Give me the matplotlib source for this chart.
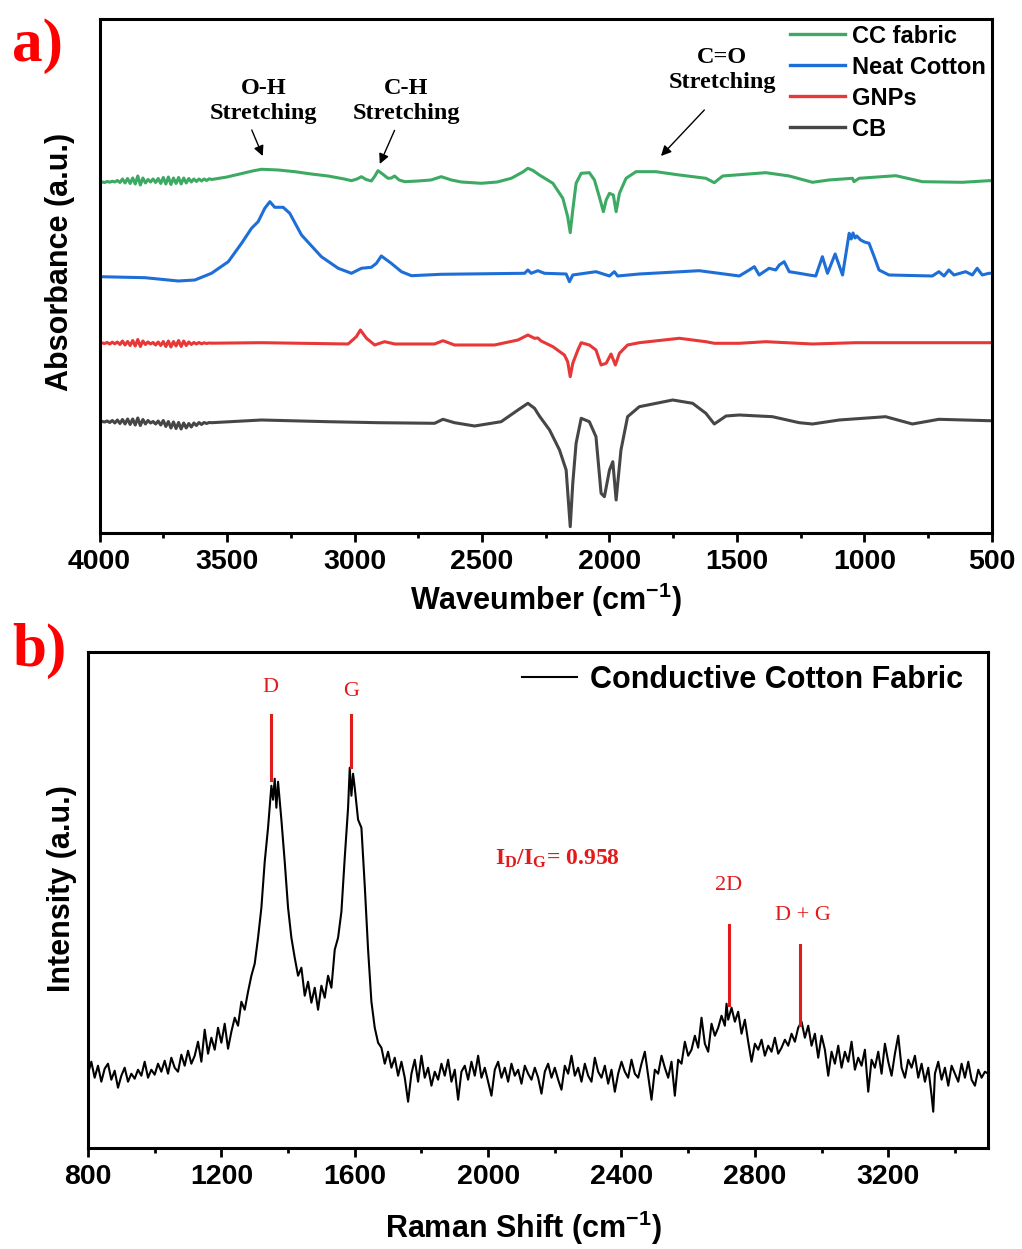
import numpy as np
import matplotlib
matplotlib.use("Agg")
import matplotlib.pyplot as plt
from matplotlib.ticker import MultipleLocator

plt.rcParams['font.family'] = ['Liberation Sans', 'DejaVu Sans']
plt.rcParams['mathtext.fontset'] = 'custom'
plt.rcParams['mathtext.rm'] = 'Liberation Serif'
plt.rcParams['mathtext.bf'] = 'Liberation Serif:bold'
plt.rcParams['mathtext.sf'] = 'Liberation Sans:bold'

# ---------------- FTIR data (wavenumber cm-1, absorbance a.u., offset as drawn)
cc_fabric = [
    (3998, 3.557), (3990, 3.56), (3980, 3.555), (3970, 3.565), (3960, 3.558), (3950, 3.568),
    (3940, 3.56), (3930, 3.575), (3920, 3.555), (3910, 3.59), (3900, 3.55), (3890, 3.595),
    (3880, 3.545), (3870, 3.60), (3860, 3.54), (3850, 3.62), (3840, 3.53), (3830, 3.60),
    (3820, 3.55), (3810, 3.585), (3800, 3.56), (3790, 3.59), (3780, 3.555), (3770, 3.595),
    (3760, 3.545), (3750, 3.605), (3740, 3.54), (3730, 3.61), (3720, 3.535), (3710, 3.60),
    (3700, 3.545), (3690, 3.605), (3680, 3.54), (3670, 3.60), (3660, 3.55), (3650, 3.595),
    (3640, 3.56), (3630, 3.59), (3620, 3.565), (3610, 3.59), (3600, 3.57), (3590, 3.59),
    (3580, 3.575), (3570, 3.592), (3560, 3.585), (3500, 3.61), (3450, 3.64), (3400, 3.67),
    (3365, 3.687), (3300, 3.68), (3234, 3.663), (3170, 3.64), (3104, 3.62), (3040, 3.59),
    (3012, 3.573), (2990, 3.59), (2973, 3.613), (2955, 3.585), (2934, 3.57), (2920, 3.62),
    (2908, 3.673), (2890, 3.64), (2869, 3.597), (2855, 3.60), (2843, 3.62), (2825, 3.58),
    (2803, 3.563), (2750, 3.57), (2700, 3.58), (2660, 3.613), (2620, 3.58), (2581, 3.56),
    (2503, 3.547), (2440, 3.56), (2385, 3.597), (2340, 3.66), (2320, 3.697), (2300, 3.675),
    (2275, 3.63), (2222, 3.547), (2183, 3.397), (2164, 3.213), (2154, 3.053), (2144, 3.28),
    (2131, 3.547), (2111, 3.647), (2079, 3.653), (2059, 3.58), (2040, 3.413), (2024, 3.263),
    (2013, 3.38), (2000, 3.447), (1985, 3.43), (1974, 3.263), (1961, 3.447), (1935, 3.597),
    (1896, 3.663), (1818, 3.663), (1726, 3.63), (1622, 3.597), (1589, 3.553), (1556, 3.62),
    (1387, 3.653), (1295, 3.62), (1204, 3.557), (1139, 3.58), (1047, 3.597), (1041, 3.563),
    (1021, 3.597), (877, 3.623), (773, 3.563), (616, 3.557), (512, 3.573), (500, 3.573),
]

neat_cotton = [
    (3998, 2.613), (3822, 2.603), (3691, 2.57), (3626, 2.58), (3561, 2.647), (3495, 2.763),
    (3443, 2.947), (3404, 3.097), (3378, 3.163), (3352, 3.297), (3332, 3.363), (3313, 3.307),
    (3280, 3.307), (3254, 3.247), (3208, 3.03), (3130, 2.813), (3064, 2.697), (3012, 2.647),
    (2973, 2.697), (2934, 2.707), (2914, 2.747), (2895, 2.82), (2856, 2.747), (2816, 2.663),
    (2777, 2.623), (2660, 2.637), (2333, 2.647), (2320, 2.68), (2307, 2.647), (2281, 2.673),
    (2255, 2.647), (2170, 2.64), (2157, 2.563), (2144, 2.63), (2053, 2.663), (2000, 2.62),
    (1981, 2.663), (1968, 2.62), (1883, 2.64), (1648, 2.673), (1491, 2.62), (1452, 2.68),
    (1432, 2.713), (1413, 2.63), (1374, 2.697), (1348, 2.68), (1334, 2.73), (1315, 2.763),
    (1295, 2.663), (1256, 2.647), (1217, 2.63), (1191, 2.62), (1165, 2.813), (1145, 2.647),
    (1115, 2.84), (1086, 2.63), (1060, 3.047), (1052, 2.99), (1045, 3.05), (1037, 3.0),
    (1030, 3.02), (1015, 2.98), (1000, 2.96), (982, 2.947), (960, 2.80), (943, 2.68),
    (904, 2.63), (734, 2.62), (708, 2.663), (688, 2.62), (669, 2.68), (649, 2.63),
    (603, 2.663), (577, 2.63), (558, 2.697), (538, 2.63), (512, 2.647), (500, 2.647),
]

gnps = [
    (3998, 1.947), (3990, 1.95), (3980, 1.945), (3970, 1.955), (3960, 1.94), (3950, 1.958),
    (3940, 1.942), (3930, 1.96), (3920, 1.935), (3910, 1.97), (3900, 1.93), (3890, 1.965),
    (3880, 1.925), (3870, 1.975), (3860, 1.92), (3850, 1.985), (3840, 1.915), (3830, 1.97),
    (3820, 1.935), (3810, 1.96), (3800, 1.94), (3790, 1.955), (3780, 1.93), (3770, 1.96),
    (3760, 1.925), (3750, 1.965), (3740, 1.915), (3730, 1.97), (3720, 1.91), (3710, 1.965),
    (3700, 1.92), (3690, 1.975), (3680, 1.915), (3670, 1.97), (3660, 1.925), (3650, 1.96),
    (3640, 1.935), (3630, 1.955), (3620, 1.94), (3610, 1.955), (3600, 1.942), (3590, 1.952),
    (3580, 1.945), (3570, 1.95), (3560, 1.948), (3365, 1.953), (3025, 1.94), (2993, 2.013),
    (2977, 2.08), (2953, 1.997), (2921, 1.93), (2882, 1.963), (2842, 1.94), (2686, 1.94),
    (2653, 1.973), (2608, 1.93), (2451, 1.93), (2359, 1.98), (2320, 2.03), (2294, 1.997),
    (2281, 2.0), (2268, 1.97), (2222, 1.913), (2177, 1.83), (2164, 1.763), (2154, 1.613),
    (2144, 1.747), (2124, 1.88), (2111, 1.953), (2079, 1.93), (2053, 1.88), (2033, 1.73),
    (2013, 1.747), (1994, 1.84), (1977, 1.73), (1961, 1.847), (1929, 1.93), (1883, 1.953),
    (1726, 1.997), (1622, 1.963), (1589, 1.947), (1491, 1.947), (1387, 1.963), (1204, 1.94),
    (1034, 1.953), (877, 1.953), (512, 1.953), (500, 1.953),
]

cb = [
    (3998, 1.163), (3990, 1.165), (3980, 1.16), (3970, 1.17), (3960, 1.155), (3950, 1.175),
    (3940, 1.15), (3930, 1.18), (3920, 1.145), (3910, 1.185), (3900, 1.14), (3890, 1.19),
    (3880, 1.135), (3870, 1.19), (3860, 1.13), (3850, 1.20), (3840, 1.125), (3830, 1.185),
    (3820, 1.14), (3810, 1.175), (3800, 1.15), (3790, 1.165), (3780, 1.14), (3770, 1.17),
    (3760, 1.13), (3750, 1.175), (3740, 1.115), (3730, 1.165), (3720, 1.10), (3710, 1.16),
    (3700, 1.095), (3690, 1.155), (3680, 1.09), (3670, 1.15), (3660, 1.10), (3650, 1.145),
    (3640, 1.11), (3630, 1.15), (3620, 1.125), (3610, 1.155), (3600, 1.135), (3590, 1.155),
    (3580, 1.145), (3570, 1.155), (3560, 1.153), (3365, 1.18), (3104, 1.163), (2908, 1.153),
    (2686, 1.147), (2653, 1.187), (2608, 1.153), (2529, 1.12), (2425, 1.163), (2359, 1.28),
    (2320, 1.347), (2294, 1.297), (2275, 1.22), (2235, 1.08), (2196, 0.88), (2170, 0.68),
    (2154, 0.113), (2144, 0.547), (2131, 0.947), (2111, 1.197), (2079, 1.163), (2053, 1.013),
    (2033, 0.447), (2020, 0.413), (2000, 0.68), (1987, 0.763), (1974, 0.38), (1955, 0.88),
    (1929, 1.213), (1883, 1.313), (1752, 1.38), (1674, 1.347), (1622, 1.247), (1589, 1.14),
    (1543, 1.22), (1491, 1.23), (1361, 1.213), (1256, 1.153), (1204, 1.14), (1099, 1.18),
    (917, 1.213), (812, 1.14), (708, 1.187), (512, 1.173), (500, 1.173),
]

ftir_series = [
    ("CC fabric", cc_fabric, "#3DAA64"),
    ("Neat Cotton", neat_cotton, "#1E6ED7"),
    ("GNPs", gnps, "#E83737"),
    ("CB", cb, "#464646"),
]

# band labels: (text, text position, arrow tail, arrow head)
ftir_bands = [
    ("O-H\nStretching", (3356, 4.37), (3403, 4.08), (3360, 3.82)),
    ("C-H\nStretching", (2796, 4.37), (2843, 4.076), (2901, 3.74)),
    ("C=O\nStretching", (1558, 4.68), (1628, 4.28), (1798, 3.82)),
]

# ---------------- Raman data (Raman shift cm-1, intensity a.u.)
raman = [
    (800, 0.74), (810, 0.86), (820, 0.70), (830, 0.82), (840, 0.66), (850, 0.79), (860, 0.84),
    (870, 0.68), (880, 0.77), (890, 0.60), (900, 0.72), (910, 0.80), (920, 0.66), (930, 0.74),
    (940, 0.69), (950, 0.78), (960, 0.72), (970, 0.86), (980, 0.70), (990, 0.78), (1000, 0.73),
    (1010, 0.84), (1020, 0.76), (1030, 0.87), (1040, 0.74), (1050, 0.90), (1060, 0.80),
    (1070, 0.76), (1080, 0.93), (1090, 0.82), (1100, 0.97), (1110, 0.84), (1120, 0.92),
    (1130, 1.06), (1140, 0.86), (1150, 1.18), (1160, 0.94), (1170, 1.10), (1180, 0.98),
    (1190, 1.20), (1200, 1.05), (1210, 1.24), (1220, 0.99), (1230, 1.16), (1240, 1.30),
    (1250, 1.22), (1260, 1.46), (1270, 1.38), (1280, 1.56), (1290, 1.72), (1300, 1.84),
    (1310, 2.10), (1320, 2.40), (1330, 2.86), (1340, 3.20), (1350, 3.62), (1355, 3.48),
    (1360, 3.69), (1365, 3.40), (1370, 3.66), (1380, 3.28), (1390, 2.86), (1400, 2.40),
    (1410, 2.10), (1420, 1.90), (1430, 1.72), (1440, 1.80), (1450, 1.52), (1460, 1.66),
    (1470, 1.45), (1480, 1.60), (1490, 1.38), (1500, 1.62), (1510, 1.50), (1520, 1.72),
    (1530, 1.60), (1540, 1.98), (1550, 2.10), (1560, 2.36), (1570, 2.90), (1580, 3.40),
    (1585, 3.80), (1590, 3.52), (1595, 3.74), (1600, 3.60), (1610, 3.28), (1620, 3.20),
    (1630, 2.62), (1640, 1.98), (1650, 1.46), (1660, 1.20), (1670, 1.05), (1680, 1.00),
    (1690, 0.84), (1700, 0.96), (1710, 0.80), (1720, 0.90), (1730, 0.72), (1740, 0.86),
    (1750, 0.70), (1760, 0.46), (1770, 0.74), (1780, 0.88), (1790, 0.66), (1800, 0.92),
    (1810, 0.70), (1820, 0.80), (1830, 0.62), (1840, 0.76), (1850, 0.68), (1860, 0.84),
    (1870, 0.72), (1880, 0.88), (1890, 0.66), (1900, 0.78), (1910, 0.48), (1920, 0.76),
    (1930, 0.82), (1940, 0.68), (1950, 0.86), (1960, 0.72), (1970, 0.92), (1980, 0.70),
    (1990, 0.80), (2000, 0.66), (2010, 0.52), (2020, 0.78), (2030, 0.86), (2040, 0.70),
    (2050, 0.80), (2060, 0.66), (2070, 0.84), (2080, 0.72), (2090, 0.78), (2100, 0.64),
    (2110, 0.82), (2120, 0.74), (2130, 0.68), (2140, 0.80), (2150, 0.70), (2160, 0.54),
    (2170, 0.76), (2180, 0.84), (2190, 0.70), (2200, 0.80), (2210, 0.68), (2220, 0.58),
    (2230, 0.82), (2240, 0.74), (2250, 0.92), (2260, 0.72), (2270, 0.80), (2280, 0.66),
    (2290, 0.84), (2300, 0.72), (2310, 0.66), (2320, 0.90), (2330, 0.76), (2340, 0.70),
    (2350, 0.82), (2360, 0.64), (2370, 0.78), (2380, 0.56), (2390, 0.74), (2400, 0.86),
    (2410, 0.76), (2420, 0.70), (2430, 0.88), (2440, 0.74), (2450, 0.70), (2460, 0.84),
    (2470, 0.96), (2480, 0.72), (2490, 0.48), (2500, 0.78), (2510, 0.74), (2520, 0.92),
    (2530, 0.80), (2540, 0.70), (2550, 0.86), (2560, 0.52), (2570, 0.88), (2580, 0.84),
    (2590, 1.06), (2600, 0.92), (2610, 0.98), (2620, 1.12), (2630, 1.00), (2640, 1.30),
    (2650, 1.04), (2660, 0.96), (2670, 1.24), (2680, 1.12), (2690, 1.20), (2700, 1.32),
    (2710, 1.22), (2715, 1.44), (2720, 1.28), (2730, 1.40), (2740, 1.26), (2750, 1.36),
    (2760, 1.14), (2770, 1.28), (2780, 1.06), (2790, 0.86), (2800, 1.04), (2810, 0.98),
    (2820, 1.08), (2830, 0.92), (2840, 1.02), (2850, 0.96), (2860, 1.10), (2870, 0.94),
    (2880, 1.00), (2890, 1.08), (2900, 1.02), (2910, 1.14), (2920, 1.06), (2930, 1.20),
    (2940, 1.26), (2950, 1.10), (2960, 1.22), (2970, 1.02), (2980, 1.14), (2990, 0.90),
    (3000, 1.12), (3010, 0.98), (3020, 0.72), (3030, 0.96), (3040, 0.84), (3050, 1.02),
    (3060, 0.80), (3070, 0.96), (3080, 0.86), (3090, 1.06), (3100, 0.78), (3110, 0.90),
    (3120, 0.82), (3130, 0.98), (3140, 0.56), (3150, 0.88), (3160, 0.80), (3170, 0.96),
    (3180, 0.74), (3190, 1.04), (3200, 0.86), (3210, 0.72), (3220, 0.94), (3230, 1.12),
    (3240, 0.80), (3250, 0.70), (3260, 0.88), (3270, 0.80), (3280, 0.92), (3290, 0.70),
    (3300, 0.84), (3310, 0.66), (3320, 0.80), (3330, 0.52), (3335, 0.36), (3340, 0.74),
    (3350, 0.86), (3360, 0.68), (3370, 0.80), (3380, 0.62), (3390, 0.82), (3400, 0.74),
    (3410, 0.66), (3420, 0.84), (3430, 0.70), (3440, 0.86), (3450, 0.68), (3460, 0.62),
    (3470, 0.78), (3480, 0.70), (3490, 0.76), (3500, 0.74),
]

# peak markers: (label, shift, line top, line bottom, label x, label y)
raman_peaks = [
    ("D", 1348, 4.327, 3.677, 1348, 4.60),
    ("G", 1588, 4.327, 3.81, 1588, 4.56),
    ("2D", 2722, 2.227, 1.427, 2722, 2.62),
    ("D + G", 2935, 2.027, 1.227, 2945, 2.32),
]
id_ig_ratio = 0.958

red = "#E31A1A"
frame_lw = 2.2

fig = plt.figure(figsize=(10.22, 12.49), dpi=100)
ax1 = fig.add_axes([0.0974, 0.5735, 0.8732, 0.4109])
ax2 = fig.add_axes([0.0861, 0.0811, 0.8809, 0.3971])

# ---- panel a
for name, pts, col in ftir_series:
    d = np.array(pts)
    ax1.plot(d[:, 0], d[:, 1], color=col, lw=2.2, label=name, solid_joinstyle='round')

for txt, tpos, tail, head in ftir_bands:
    ax1.text(tpos[0], tpos[1], txt, ha='center', va='center', fontsize=17.5,
             fontweight='bold', family='Liberation Serif', linespacing=1.27)
    ax1.annotate('', xy=head, xytext=tail,
                 arrowprops=dict(arrowstyle='-|>', color='black', lw=1.0,
                                 mutation_scale=15, shrinkA=0, shrinkB=0))

ax1.set_xlim(4000, 500)
ax1.set_ylim(0.053, 5.185)
ax1.xaxis.set_major_locator(MultipleLocator(500))
ax1.xaxis.set_minor_locator(MultipleLocator(250))
ax1.set_yticks([])
ax1.set_xlabel('Waveumber (cm$^{\\mathsf{-1}}$)', fontsize=22, fontweight='bold', va='center')
ax1.xaxis.set_label_coords(0.5003, -0.131)
ax1.set_ylabel('Absorbance (a.u.)', fontsize=22, fontweight='bold', va='center')
ax1.yaxis.set_label_coords(-0.044, 0.5275)
leg1 = ax1.legend(loc='upper left', bbox_to_anchor=(0.7737, 0.99), frameon=False,
                  borderpad=0, borderaxespad=0, handlelength=2.33, handletextpad=0.3,
                  labelspacing=0.34, prop={'weight': 'bold', 'size': 17})
for h in leg1.get_lines():
    h.set_linewidth(2.4)

# ---- panel b
r = np.array(raman)
ax2.plot(r[:, 0], r[:, 1], color='black', lw=1.5, label='Conductive Cotton Fabric')
for lab, x, top, bot, lx, ly in raman_peaks:
    ax2.plot([x, x], [bot, top], color=red, lw=2.2)
    ax2.text(lx, ly, lab, color=red, ha='center', va='center', fontsize=16,
             family='Liberation Serif')
ax2.text(2020, 2.89, '$\\mathbf{I_D/I_G}$= %.3f' % id_ig_ratio, color=red, ha='left',
         va='center', fontsize=17, fontweight='bold', family='Liberation Serif')

ax2.set_xlim(800, 3500)
ax2.set_ylim(0, 4.96)
ax2.xaxis.set_major_locator(MultipleLocator(400))
ax2.xaxis.set_minor_locator(MultipleLocator(200))
ax2.set_yticks([])
ax2.set_xlabel('Raman Shift (cm$^{\\mathsf{-1}}$)', fontsize=22, fontweight='bold', va='center')
ax2.xaxis.set_label_coords(0.484, -0.162)
ax2.set_ylabel('Intensity (a.u.)', fontsize=22, fontweight='bold', va='center')
ax2.yaxis.set_label_coords(-0.0294, 0.5216)
ax2.legend(loc='upper left', bbox_to_anchor=(0.482, 0.973), frameon=False, borderpad=0,
           borderaxespad=0, handlelength=1.8, handletextpad=0.42,
           prop={'weight': 'bold', 'size': 22})

for ax in (ax1, ax2):
    for s in ax.spines.values():
        s.set_linewidth(frame_lw)
    ax.tick_params(axis='x', which='major', direction='out', length=6.5, width=2,
                   labelsize=20.5, pad=5)
    ax.tick_params(axis='x', which='minor', direction='out', length=3.5, width=2)
    for t in ax.get_xticklabels():
        t.set_fontweight('bold')

fig.text(0.0117, 0.951, 'a)', color='red', fontsize=44, fontweight='bold',
         family='Liberation Serif', ha='left', va='baseline')
fig.text(0.0117, 0.4668, 'b)', color='red', fontsize=44, fontweight='bold',
         family='Liberation Serif', ha='left', va='baseline')

fig.savefig('out.png', dpi=100)
